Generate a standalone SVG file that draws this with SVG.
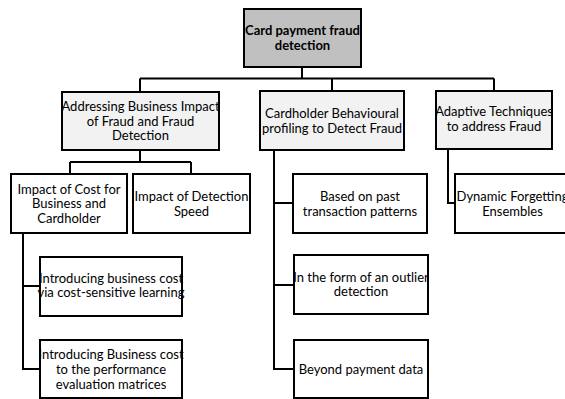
<svg xmlns="http://www.w3.org/2000/svg" width="565" height="399" viewBox="0 0 565 399">
<style>
  .box { stroke: #000; stroke-width: 2; }
  .root { fill: #c0c0c0; }
  .l1 { fill: #f2f2f2; }
  .l2 { fill: #ffffff; }
  .t { font-family: Lato, "Liberation Sans", sans-serif; font-size: 13px; fill: #000; text-anchor: middle; }
  .b { font-weight: bold; }
  .conn { stroke: #000; stroke-width: 2; fill: none; }
</style>
<rect width="565" height="399" fill="#fff"/>
<g id="connectors">
  <path class="conn" d="M302,67 V78.5 M140,78.5 H494 M140,78.5 V92 M332,78.5 V91 M494,78.5 V91"/>
  <path class="conn" d="M140,150 V162 M70,162 H191 M70,162 V174 M191,162 V174"/>
  <path class="conn" d="M23,233 V369 H40 M23,286 H40"/>
  <path class="conn" d="M274,150 V369 H293 M274,203 H293 M274,285 H294"/>
  <path class="conn" d="M448,149 V203 H455"/>
</g>
<g id="root">
  <rect class="box root" x="244" y="9" width="117" height="58"/>
  <text class="t b" x="302.5" y="35">Card payment fraud</text>
  <text class="t b" x="302.5" y="50">detection</text>
</g>
<g id="n-business">
  <rect class="box l1" x="62" y="92" width="157" height="58"/>
  <text class="t" x="140.5" y="110.5">Addressing Business Impact</text>
  <text class="t" x="140.5" y="125.5">of Fraud and Fraud</text>
  <text class="t" x="140.5" y="140">Detection</text>
</g>
<g id="n-profiling">
  <rect class="box l1" x="260" y="91" width="144" height="59"/>
  <text class="t" x="332" y="118">Cardholder Behavioural</text>
  <text class="t" x="332" y="133">profiling to Detect Fraud</text>
</g>
<g id="n-adaptive">
  <rect class="box l1" x="436" y="91" width="116" height="58"/>
  <text class="t" x="494" y="116">Adaptive Techniques</text>
  <text class="t" x="494" y="131">to address Fraud</text>
</g>
<g id="n-cost">
  <rect class="box l2" x="11" y="174" width="116" height="59"/>
  <text class="t" x="69" y="193.5">Impact of Cost for</text>
  <text class="t" x="69" y="208">Business and</text>
  <text class="t" x="69" y="223">Cardholder</text>
</g>
<g id="n-speed">
  <rect class="box l2" x="133" y="174" width="117" height="59"/>
  <text class="t" x="191.5" y="201">Impact of Detection</text>
  <text class="t" x="191.5" y="215.5">Speed</text>
</g>
<g id="n-costlearning">
  <rect class="box l2" x="40" y="257" width="142" height="59"/>
  <text class="t" x="111" y="282.5">Introducing business cost</text>
  <text class="t" x="111" y="297">via cost-sensitive learning</text>
</g>
<g id="n-costmetrics">
  <rect class="box l2" x="40" y="340" width="142" height="58"/>
  <text class="t" x="111" y="358.5">Introducing Business cost</text>
  <text class="t" x="111" y="374">to the performance</text>
  <text class="t" x="111" y="388.5">evaluation matrices</text>
</g>
<g id="n-past">
  <rect class="box l2" x="293" y="174" width="134" height="59"/>
  <text class="t" x="360" y="201">Based on past</text>
  <text class="t" x="360" y="215.5">transaction patterns</text>
</g>
<g id="n-outlier">
  <rect class="box l2" x="294" y="255" width="134" height="59"/>
  <text class="t" x="361" y="281.5">In the form of an outlier</text>
  <text class="t" x="361" y="296">detection</text>
</g>
<g id="n-beyond">
  <rect class="box l2" x="294" y="340" width="134" height="58"/>
  <text class="t" x="361" y="373.5">Beyond payment data</text>
</g>
<g id="n-dynamic">
  <rect class="box l2" x="455" y="174" width="115" height="59"/>
  <text class="t" x="512.5" y="200.5">Dynamic Forgetting</text>
  <text class="t" x="512.5" y="215.5">Ensembles</text>
</g>
</svg>
